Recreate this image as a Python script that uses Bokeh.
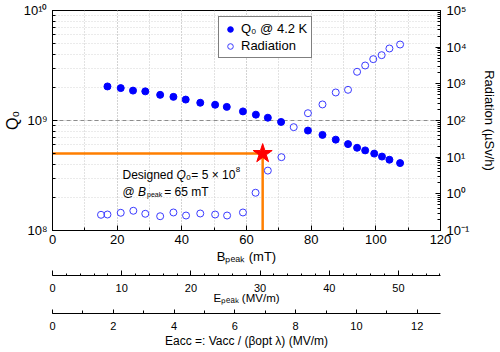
from bokeh.plotting import figure
from bokeh.models import (Range1d, LinearAxis, LogAxis, LogScale, SingleIntervalTicker,
                          LogTicker, FixedTicker, CustomJSTickFormatter, Label, Legend, LegendItem)
from bokeh.embed import file_html
from bokeh.resources import INLINE

# ---------------- data ----------------
b_q0 = [17.0, 21.1, 24.9, 28.7, 33.3, 37.4, 41.2, 45.7, 50.3, 53.9, 58.9, 62.9, 66.6, 70.7,
        79.0, 83.5, 87.6, 91.4, 94.2, 96.7, 99.5, 101.9, 104.2, 107.5]
q0 = [2.04e9, 1.97e9, 1.87e9, 1.84e9, 1.71e9, 1.64e9, 1.55e9, 1.45e9, 1.39e9, 1.33e9, 1.21e9,
      1.13e9, 1.06e9, 0.97e9, 8.1e8, 7.4e8, 6.7e8, 6.1e8, 5.65e8, 5.35e8, 5.0e8, 4.7e8, 4.4e8, 4.1e8]
b_rad = [15.0, 17.0, 21.1, 25.0, 28.7, 33.3, 37.4, 41.3, 45.7, 50.3, 54.0, 58.9, 62.8, 66.6,
         70.8, 74.6, 79.0, 83.5, 87.6, 91.4, 94.2, 96.7, 99.2, 101.8, 104.2, 107.5]
rad = [0.268, 0.273, 0.304, 0.345, 0.286, 0.245, 0.31, 0.256, 0.291, 0.273, 0.256, 0.31, 1.07, 4.3,
       10.0, 65.8, 158, 274, 581, 687, 2130, 3160, 4710, 6050, 9200, 11800]
design_b = 65
design_q0 = 5e8
B_PER_EPEAK = 2.14   # mT per MV/m
B_PER_EACC = 9.40    # mT per MV/m
b_range = (0, 120)
q_range = (1e8, 1e10)
rad_range = (0.1, 1e5)

FONT = "Liberation Sans"
W, H = 500, 352
FL, FR, FT, FB = 47, 444, 10, 230

p = figure(width=W, height=H, x_range=Range1d(*b_range), y_range=Range1d(*q_range),
           y_axis_type="log", output_backend="svg", toolbar_location=None,
           min_border_left=FL, min_border_right=W - FR, min_border_top=FT,
           min_border_bottom=H - FB)
p.outline_line_color = "black"
p.outline_line_width = 1
p.background_fill_color = "white"
p.border_fill_color = "white"

p.extra_y_ranges = {"rad": Range1d(*rad_range)}
p.extra_y_scales = {"rad": LogScale()}
p.extra_x_ranges = {"epk": Range1d(b_range[0] / B_PER_EPEAK, b_range[1] / B_PER_EPEAK),
                    "eacc": Range1d(b_range[0] / B_PER_EACC, b_range[1] / B_PER_EACC)}

sup_fmt = CustomJSTickFormatter(code="""
const sup = {"0":"\u2070","1":"\u00b9","2":"\u00b2","3":"\u00b3","4":"\u2074","5":"\u2075",
             "6":"\u2076","7":"\u2077","8":"\u2078","9":"\u2079","-":"\u207b"};
const e = Math.round(Math.log10(tick));
return "10" + String(e).split("").map(c => sup[c]).join("");
""")


def style_axis(ax, size="12px"):
    ax.axis_line_color = "black"
    ax.major_tick_line_color = "black"
    ax.minor_tick_line_color = "black"
    ax.major_tick_out = 0
    ax.minor_tick_out = 0
    ax.major_tick_in = 5
    ax.minor_tick_in = 3
    ax.major_label_text_font = FONT
    ax.major_label_text_font_size = size
    ax.major_label_text_color = "black"
    ax.axis_label_text_font = FONT
    ax.axis_label_text_font_style = "normal"
    ax.axis_label_text_color = "black"


# main x axis
xa = p.xaxis[0]
xa.ticker = SingleIntervalTicker(interval=20, num_minor_ticks=2)
style_axis(xa, "13px")
xa.major_label_standoff = 4
xa.axis_label = "B\u209a\u2091\u2090\u2096 (mT)"
xa.axis_label_text_font_size = "13px"
xa.axis_label_standoff = 2

# left axis
ya = p.yaxis[0]
ya.ticker = LogTicker(num_minor_ticks=10)
ya.formatter = sup_fmt
style_axis(ya, "13px")
ya.major_label_standoff = 5
ya.axis_label = "Q\u2080"
ya.axis_label_text_font_size = "16px"
ya.axis_label_standoff = 0

# right axis
ra = LogAxis(y_range_name="rad", ticker=LogTicker(num_minor_ticks=10, desired_num_ticks=8),
             formatter=sup_fmt)
style_axis(ra, "13px")
ra.major_label_standoff = 6
ra.axis_label = "Radiation (\u00b5Sv/h)"
ra.axis_label_text_font_size = "13px"
ra.axis_label_standoff = 10
p.add_layout(ra, "right")

# grids
p.xgrid.grid_line_color = "#c4c4c4"
p.xgrid.grid_line_dash = "1 2"
p.xgrid.minor_grid_line_color = "#c4c4c4"
p.xgrid.minor_grid_line_dash = "1 2"
p.ygrid.grid_line_color = "#8c8c8c"
p.ygrid.grid_line_dash = "4 3"
p.ygrid.minor_grid_line_color = "#d6d6d6"
p.ygrid.minor_grid_line_dash = "1 2"


def spacer(px):
    # an axis with one invisible outward tick: it only reserves px of vertical room
    return LinearAxis(ticker=FixedTicker(ticks=[b_range[0]]), axis_line_color=None,
                      major_tick_line_color="white", major_tick_line_alpha=0.01,
                      major_tick_out=px, major_tick_in=0,
                      minor_tick_line_color=None, minor_tick_out=0, minor_tick_in=0,
                      major_label_text_color=None, major_label_text_font_size="0px",
                      major_label_standoff=0)


p.add_layout(spacer(9), "below")
epk = LinearAxis(x_range_name="epk", ticker=SingleIntervalTicker(interval=10, num_minor_ticks=5))
style_axis(epk, "11px")
epk.major_tick_in = 5
epk.minor_tick_in = 2
epk.major_label_standoff = 8
epk.axis_label = "E\u209a\u2091\u2090\u2096 (MV/m)"
epk.axis_label_text_font_size = "11.5px"
epk.axis_label_standoff = -3
p.add_layout(epk, "below")
p.add_layout(spacer(7), "below")
eacc = LinearAxis(x_range_name="eacc", ticker=SingleIntervalTicker(interval=2, num_minor_ticks=2))
style_axis(eacc, "11px")
eacc.major_tick_in = 4
eacc.minor_tick_in = 3
eacc.major_label_standoff = 8
eacc.axis_label = "Eacc =: Vacc / (\u03b2opt \u03bb) (MV/m)"
eacc.axis_label_text_font_size = "12px"
eacc.axis_label_standoff = 1
p.add_layout(eacc, "below")

# data glyphs
p.line([b_range[0], design_b, design_b], [design_q0, design_q0, q_range[0]],
       line_color="#ff7f00", line_width=2.5)
q_r = p.scatter(b_q0, q0, marker="circle", size=7, color="#0000ff")
rad_r = p.scatter(b_rad, rad, y_range_name="rad", marker="circle", size=7,
                  fill_color=None, line_color="#3a3aff", line_width=1)
p.scatter([design_b], [design_q0], marker="star", size=20, color="#ff0000")

legend = Legend(items=[LegendItem(label="Q\u2080 @ 4.2 K", renderers=[q_r]),
                       LegendItem(label="Radiation", renderers=[rad_r])],
                location=(166, 172), label_text_font=FONT, label_text_font_size="13px",
                label_text_color="black", border_line_color="black", border_line_width=1,
                background_fill_color="white", background_fill_alpha=1.0,
                padding=4, spacing=2, glyph_width=14, glyph_height=14, label_standoff=4,
                label_height=15, margin=0)
p.add_layout(legend)

# ---------------- rich text annotation inside the frame ----------------
WID = {' ': .278, 'D': .722, 'e': .556, 's': .5, 'i': .222, 'g': .556, 'n': .556, 'd': .556,
       'Q': .778, '=': .584, '\u00d7': .584, '@': 1.015, 'B': .667, 'p': .556, 'a': .556,
       'k': .5, 'm': .833, 'T': .611}


def tw(s, size):
    return sum(WID.get(c, .556) for c in s) * size


def rich(x, y, pieces):
    for text, size, style, dy, gap in pieces:
        x += gap
        p.add_layout(Label(x=x - FL, y=FB - (y + dy), x_units="screen", y_units="screen",
                           text=text, text_font=FONT, text_font_size=f"{size}px",
                           text_font_style=style, text_baseline="alphabetic",
                           text_align="left", text_color="black"))
        x += tw(text, size)


rich(117, 174, [("Designed ", 12, "normal", 0, 0), ("Q", 12, "italic", 0, 0),
                ("0", 8, "normal", 3, 0.5), ("= 5 \u00d7 10", 12, "normal", 0, 0.5),
                ("8", 8, "normal", -5, 0.5)])
rich(117, 191, [("@ ", 12, "normal", 0, 0), ("B", 12, "italic", 0, 0),
                ("peak", 7, "normal", 3, 1), (" = 65 mT", 12, "normal", 0, 2)])

open("out.html", "w").write(file_html(p, INLINE))
